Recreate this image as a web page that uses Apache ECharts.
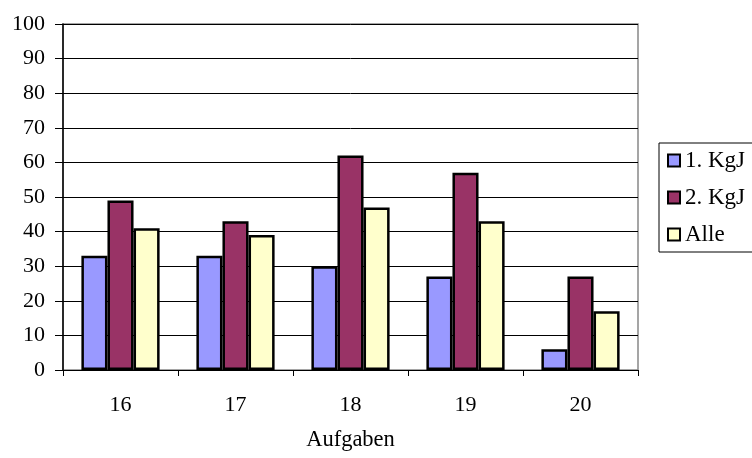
<!DOCTYPE html>
<html><head><meta charset="utf-8">
<script src="https://cdn.jsdelivr.net/npm/echarts@6/dist/echarts.min.js"></script>
<style>html,body{margin:0;padding:0;background:#fff}#c{width:752px;height:458px}</style>
</head><body><div id="c"></div>
<script>
const categories = ['16', '17', '18', '19', '20'];
const kgj1 = [33, 33, 30, 27, 6];
const kgj2 = [49, 43, 62, 57, 27];
const alle = [41, 39, 47, 43, 17];
const seriesNames = ['1. KgJ', '2. KgJ', 'Alle'];
const colors = ['#9999FF', '#993366', '#FFFFCC'];
const font = 'Liberation Serif';
const chart = echarts.init(document.getElementById('c'));
const mk = (name, data, color) => ({
  name, type: 'bar', data, barGap: '0%', barCategoryGap: '32%',
  itemStyle: { color, borderColor: '#000000', borderWidth: 2.5, opacity: 1 },
  emphasis: { disabled: true }
});
chart.setOption({
  animation: false,
  grid: { left: 63, right: 114, top: 24, bottom: 88, show: true, borderColor: '#888', borderWidth: 1.5, backgroundColor: 'transparent' },
  legend: {
    orient: 'vertical', left: 659, top: 143,
    padding: [6, 30, 6, 8],
    borderColor: '#000', borderWidth: 1, itemWidth: 12, itemHeight: 12, itemGap: 14,
    icon: 'rect',
    itemStyle: { borderColor: '#000', borderWidth: 2 },
    textStyle: { fontFamily: font, fontSize: 23, color: '#000', lineHeight: 22, padding: [0, 0, 0, 0] },
    data: seriesNames
  },
  xAxis: {
    type: 'category', data: categories,
    name: 'Aufgaben', nameLocation: 'middle', nameGap: 59,
    nameTextStyle: { fontFamily: font, fontSize: 22.5, color: '#000' },
    axisLine: { lineStyle: { color: '#000', width: 1 } },
    axisTick: { show: true, length: 6, lineStyle: { color: '#000' } },
    axisLabel: { fontFamily: font, fontSize: 22, color: '#000', margin: 24 }
  },
  yAxis: {
    type: 'value', min: 0, max: 100, interval: 10,
    axisLine: { show: true, lineStyle: { color: '#000', width: 1.5 } },
    axisTick: { show: true, length: 8, lineStyle: { color: '#000' } },
    axisLabel: { fontFamily: font, fontSize: 22, color: '#000', margin: 18 },
    splitLine: { lineStyle: { color: '#000', width: 1 } }
  },
  series: [mk(seriesNames[0], kgj1, colors[0]), mk(seriesNames[1], kgj2, colors[1]), mk(seriesNames[2], alle, colors[2])]
});
</script></body></html>
